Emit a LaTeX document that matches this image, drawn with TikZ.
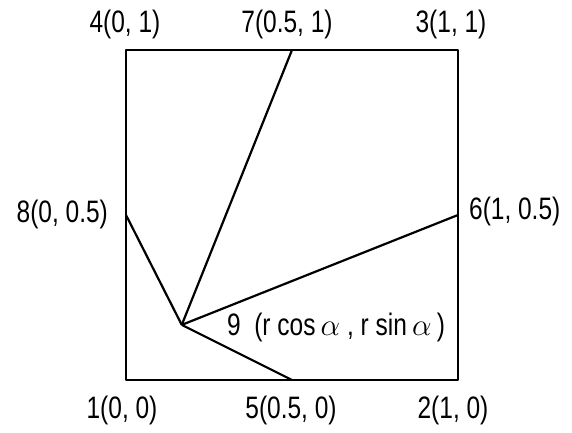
\RequirePackage{fix-cm}
\documentclass[tikz,border=0pt]{standalone}
\usepackage{fontspec}
\setmainfont[FakeStretch=0.79]{Liberation Sans}
\usetikzlibrary{positioning}

\begin{document}
\begin{tikzpicture}[
    x=332pt, y=330pt,
    every node/.style={font=\fontsize{31}{36}\selectfont, inner sep=0pt},
    edge/.style={line width=2.2pt, line join=round}
]
\useasboundingbox (-0.3795,-0.1606) rectangle (1.3434,1.1515);

% corners, mid points and the inner point
\coordinate (p1) at (0,0);
\coordinate (p2) at (1,0);
\coordinate (p3) at (1,1);
\coordinate (p4) at (0,1);
\coordinate (p5) at (0.5,0);
\coordinate (p6) at (1,0.5);
\coordinate (p7) at (0.5,1);
\coordinate (p8) at (0,0.5);
\coordinate (p9) at (0.168,0.167);

\draw[edge] (p1) -- (p2) -- (p3) -- (p4) -- cycle;
\foreach \q in {5,6,7,8}{
    \draw[edge] (p9) -- (p\q);
}

\node (l1) at (-0.012,-0.091) {1(0, 0)};
\node (l2) at (0.985,-0.091) {2(1, 0)};
\node (l3) at (0.979,1.076) {3(1, 1)};
\node (l4) at (-0.003,1.076) {4(0, 1)};
\node (l5) at (0.497,-0.091) {5(0.5, 0)};
\node[anchor=west] (l6) at (1.033,0.51) {6(1, 0.5)};
\node (l7) at (0.485,1.076) {7(0.5, 1)};
\node[anchor=east] (l8) at (-0.054,0.503) {8(0, 0.5)};
\node[anchor=west] (l9) at (0.304,0.158) {9\ \ (r cos\,$\alpha$\ , r sin\,$\alpha$\,)};

\end{tikzpicture}
\end{document}
